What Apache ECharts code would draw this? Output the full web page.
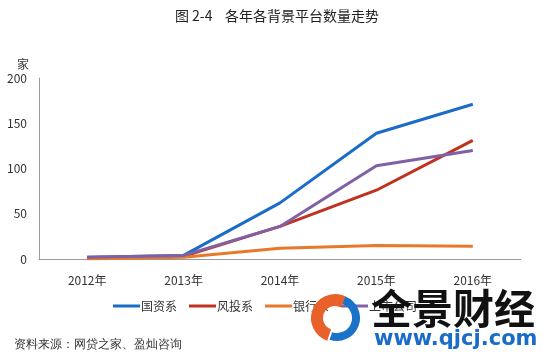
<!DOCTYPE html>
<html><head><meta charset="utf-8">
<script src="https://cdn.jsdelivr.net/npm/echarts@6/dist/echarts.min.js"></script>
<style>html,body{margin:0;padding:0;background:#fff}#c{width:554px;height:355px}</style>
</head><body><div id="c"></div>
<script>
const categories = ['2012年','2013年','2014年','2015年','2016年'];
const guozi = [2, 4, 62, 139, 171];
const fengtou = [1, 3, 36, 76, 131];
const yinhang = [0, 2, 12, 15, 14];
const shangshi = [2, 4, 36, 103, 120];
const seriesNames = ['国资系','风投系','银行系','上市公司'];
const colors = ['#1a6cc6','#c0311f','#e8792a','#8060a6'];
const yTicks = [0, 50, 100, 150, 200];
const font = '"Noto Sans CJK SC", sans-serif';

const chart = echarts.init(document.getElementById('c'));
const data = [guozi, fengtou, yinhang, shangshi];
chart.setOption({
  animation: false,
  backgroundColor: '#fff',
  textStyle: {fontFamily: font},
  title: {text: '图 2-4    各年各背景平台数量走势', left: 'center', top: 4,
    textStyle: {fontSize: 14, fontWeight: 'normal', color: '#222', fontFamily: font}},
  grid: {left: 39, right: 33, top: 78, bottom: 96},
  legend: {data: seriesNames, left: 108, top: 295, itemWidth: 27, itemHeight: 3, itemGap: 12,
    icon: 'rect', textStyle: {fontSize: 12, color: '#333', padding: [0,0,0,-4]}},
  xAxis: {type: 'category', data: categories, boundaryGap: true,
    axisLine: {lineStyle: {color: '#999'}}, axisTick: {show: false},
    axisLabel: {fontSize: 12, color: '#333', margin: 15}},
  yAxis: {type: 'value', min: yTicks[0], max: yTicks[yTicks.length-1], interval: 50,
    name: '家', nameGap: 8, nameTextStyle: {fontSize: 12, color: '#333', align: 'right', padding: [0, 10, 0, 0]},
    axisLine: {show: true, lineStyle: {color: '#999'}}, axisTick: {show: false},
    splitLine: {show: false}, axisLabel: {fontSize: 12, color: '#333', margin: 12}},
  series: seriesNames.map((n, i) => ({
    name: n, type: 'line', data: data[i], showSymbol: false, symbol: 'none',
    lineStyle: {width: 3, color: colors[i]}, itemStyle: {color: colors[i]}
  })),
  graphic: [
    {type: 'text', left: 14, top: 339, style: {text: '资料来源：网贷之家、盈灿咨询', fontSize: 12, fill: '#333', font: '12px ' + font}},
    {type: 'arc', shape: {cx: 335, cy: 318, r: 18, startAngle: 1.9, endAngle: 5.2}, style: {stroke: '#e8602a', lineWidth: 12, fill: null}, z: 100},
    {type: 'arc', shape: {cx: 337, cy: 318, r: 19, startAngle: -1.2, endAngle: 1.9}, style: {stroke: '#1a73c8', lineWidth: 8, fill: null}, z: 101},
    {type: 'text', left: 371, top: 288, style: {text: '全景财经', font: 'bold 41px ' + font, fill: '#111'}, z: 100},
    {type: 'text', left: 374, top: 329, style: {text: 'www.qjcj.com', font: 'bold 21px "DejaVu Sans", sans-serif', fill: '#1a6cc6'}, z: 100}
  ]
});
</script></body></html>
